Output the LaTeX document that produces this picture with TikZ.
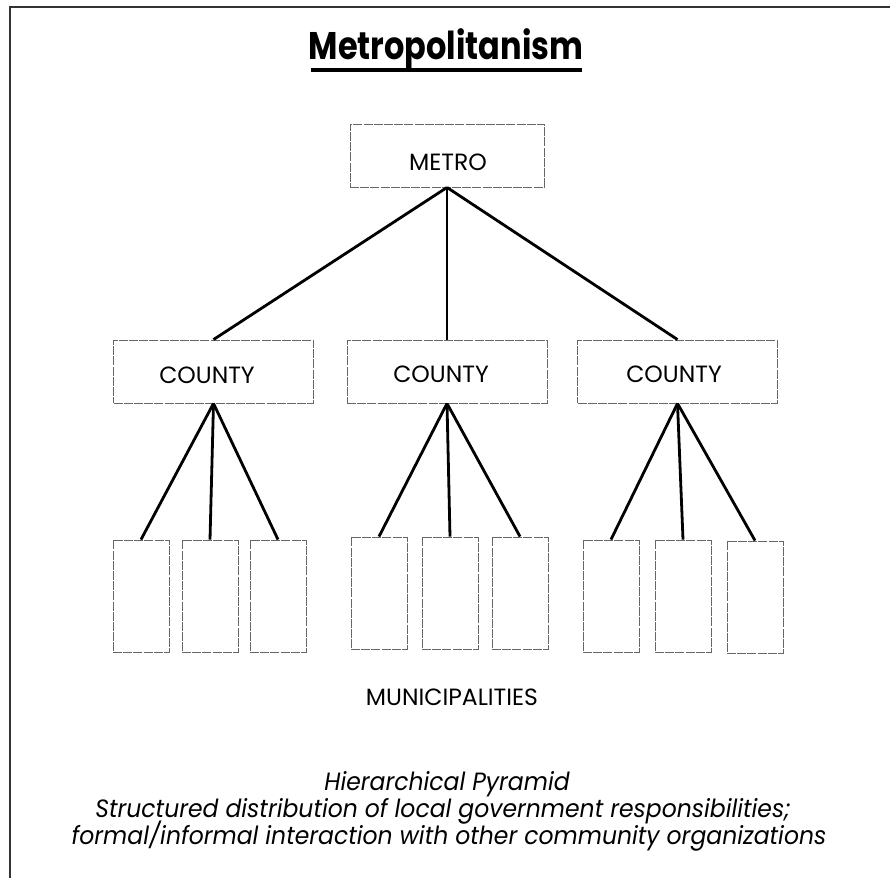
\documentclass[tikz,border=0pt]{standalone}
\usepackage{fontspec}
\setmainfont{Poppins}
\newfontfamily\titlefont[FakeStretch=0.83]{Poppins}
\newfontfamily\capfont[FakeStretch=0.94]{Poppins}
\begin{document}
\begin{tikzpicture}[x=1pt,y=-1pt,
  box/.style={draw=black!60, line width=0.9pt, dash pattern=on 9pt off 1.2pt, rectangle, inner sep=0pt, fill=white},
  lvl/.style={box, minimum width=200pt, minimum height=63pt},
  muni/.style={box, minimum width=56pt, minimum height=112pt},
  lbl/.style={anchor=base, inner sep=0pt, font=\fontsize{23.5}{26}\selectfont},
  link/.style={line width=2.8pt, black},
  caption/.style={anchor=base, inner sep=0pt, font=\capfont\itshape\fontsize{25}{27}\selectfont}]
\useasboundingbox (0,0) rectangle (890,878);
\fill[white] (0,0) rectangle (890,878);
% frame (cropped)
\coordinate (fr1) at (890,7);
\coordinate (fr2) at (10,7);
\coordinate (fr3) at (10,878);
\draw[line width=1.8pt, black!80] (fr1) -- (fr2) -- (fr3);
% title
\node[anchor=base, inner sep=0pt, font=\titlefont\bfseries\fontsize{38.5}{40}\selectfont] (title) at (446,59) {Metropolitanism};
\coordinate (ul1) at (311,70);
\coordinate (ul2) at (582,70);
\draw[line width=4pt] (ul1) -- (ul2);
% boxes
\node[lvl, minimum width=194pt] (metro) at (447,155.5) {};
\node[lvl] (c1) at (213.5,371.5) {};
\node[lvl] (c2) at (447,371.5) {};
\node[lvl] (c3) at (677.5,371.5) {};
\node[lbl] (metrolbl) at (448,170) {METRO};
\node[lbl] (c1lbl) at (207,383) {COUNTY};
\node[lbl] (c2lbl) at (441,382) {COUNTY};
\node[lbl] (c3lbl) at (674,382) {COUNTY};
\node[muni] (m11) at (141,596) {};
\node[muni] (m12) at (210,596) {};
\node[muni] (m13) at (278,596) {};
\node[muni] (m21) at (379,593) {};
\node[muni] (m22) at (450,593) {};
\node[muni] (m23) at (520,593) {};
\node[muni] (m31) at (611,596) {};
\node[muni] (m32) at (683,596) {};
\node[muni] (m33) at (755,597) {};
% links
\foreach \c in {c1,c2,c3} \draw[link] (metro.south) -- (\c.north);
\foreach \m in {m11,m12,m13} \draw[link] (c1.south) -- (\m.north);
\foreach \m in {m21,m22,m23} \draw[link] (c2.south) -- (\m.north);
\foreach \m in {m31,m32,m33} \draw[link] (c3.south) -- (\m.north);
\node[lbl] (munilabel) at (452,705) {MUNICIPALITIES};
\node[caption] (cap1) at (447,790) {Hierarchical Pyramid};
\node[caption] (cap2) at (443,817) {Structured distribution of local government responsibilities;};
\node[caption] (cap3) at (449,844) {formal/informal interaction with other community organizations};
\end{tikzpicture}
\end{document}
